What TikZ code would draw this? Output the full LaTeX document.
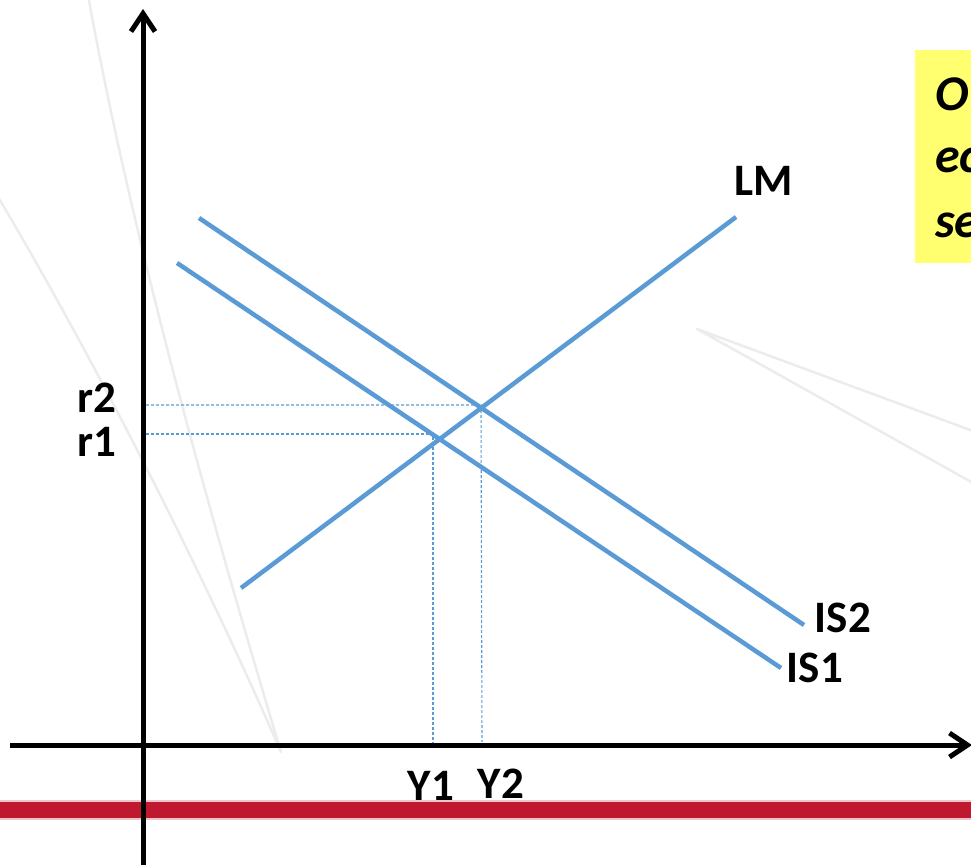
\documentclass[tikz,border=0pt]{standalone}
\usepackage{fontspec}
\setmainfont{Carlito}
\usetikzlibrary{arrows.meta}
\definecolor{curveblue}{RGB}{91,155,213}
\definecolor{bandred}{RGB}{192,24,46}
\definecolor{noteyellow}{RGB}{255,255,112}
\definecolor{faintgray}{RGB}{236,236,236}

\begin{document}
\begin{tikzpicture}[x=1pt,y=-1pt,
  curve/.style={curveblue,line width=4.5pt},
  guide/.style={curveblue,line width=1.1pt,dash pattern=on 3pt off 2pt},
  axis/.style={line width=5pt,-{Straight Barb[length=18pt,width=24pt]}},
  lab/.style={font=\fontsize{45}{54}\selectfont\bfseries,inner sep=0pt,anchor=base},
  note/.style={font=\fontsize{50}{60}\selectfont\bfseries\itshape,inner sep=0pt,anchor=base west}]
  \useasboundingbox (0,0) rectangle (971,865);
  \clip (0,0) rectangle (971,865);
  % faint background strokes
  \draw[faintgray,line width=2.5pt,line join=round,line cap=round]
    (88,-5) .. controls (125,200) and (190,450) .. (281,752)
    .. controls (180,520) and (60,300) .. (-5,192);
  \draw[faintgray,line width=2.5pt,line join=round]
    (1000,441) -- (697,329) -- (1000,498);
  % red band and yellow note
  \fill[bandred!25] (0,800) rectangle (971,820);
  \fill[bandred] (0,802) rectangle (971,818);
  \fill[noteyellow] (915,50) rectangle (980,263);
  \node[note] (n1) at (935,110) {O};
  \node[note] (n2) at (935,172) {ec};
  \node[note] (n3) at (935,237) {se};
  % curve end points
  \coordinate (lm0) at (241,588);
  \coordinate (lm1) at (736,217);
  \coordinate (isa0) at (177,263);
  \coordinate (isa1) at (781,668);
  \coordinate (isb0) at (199,218);
  \coordinate (isb1) at (804,625);
  \coordinate (e1) at (433,434);
  \coordinate (e2) at (481,405);
  % guides to the axes
  \draw[guide] (146,434) -- (e1) -- (433,745);
  \draw[guide] (146,405) -- (e2) -- (482,742);
  % IS and LM
  \draw[curve] (isa0) -- (isa1);
  \draw[curve] (isb0) -- (isb1);
  \draw[curve] (lm0) -- (lm1);
  % axes
  \draw[axis] (143,865) -- (143,9);
  \draw[axis] (10,745) -- (972,745);
  % labels
  \node[lab] (r2) at (97,412) {r2};
  \node[lab] (r1) at (97,456) {r1};
  \node[lab] (y1) at (431,800) {Y1};
  \node[lab] (y2) at (501,798) {Y2};
  \node[lab] (lm) at (764,195) {LM};
  \node[lab] (is2) at (843,632) {IS2};
  \node[lab] (is1) at (815,682) {IS1};
\end{tikzpicture}
\end{document}
